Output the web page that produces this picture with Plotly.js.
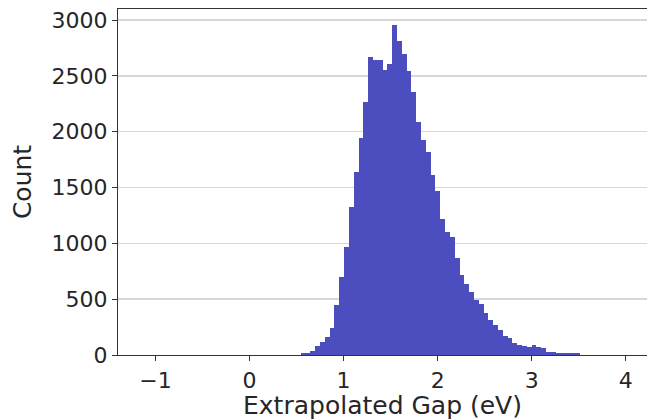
<!DOCTYPE html>
<html>
<head>
<meta charset="utf-8">
<script src="https://cdn.plot.ly/plotly-3.0.1.min.js"></script>
<style>
  html, body { margin: 0; padding: 0; background: #ffffff; }
  #chart { width: 647px; height: 420px; }
</style>
</head>
<body>
<div id="chart"></div>
<script>
// Histogram of extrapolated gap values (eV)
const binStart = -1.143;     // left edge of the first histogram bin (eV)
const binWidth = 0.05114;    // bin width (eV)
const firstBin = 32;         // index of the first bin listed below
const counts = [
  3, 15, 20, 36, 84, 118, 157, 245, 448, 702,
  971, 1324, 1637, 1945, 2262, 2665, 2640, 2642, 2554, 2610,
  2952, 2808, 2700, 2540, 2360, 2091, 1925, 1814, 1610, 1468,
  1216, 1100, 1055, 866, 713, 635, 568, 493, 457, 373,
  317, 269, 227, 172, 154, 112, 86, 84, 75, 90,
  72, 60, 30, 30, 15, 15, 15, 15, 15, 4,
  3
];
const xTickVals = [-1, 0, 1, 2, 3, 4];
const yTickVals = [0, 500, 1000, 1500, 2000, 2500, 3000];
const xLabel = "Extrapolated Gap (eV)";
const yLabel = "Count";

const centers = counts.map((c, i) => binStart + (firstBin + i + 0.5) * binWidth);

const trace = {
  type: "bar",
  x: centers,
  y: counts,
  width: binWidth,
  marker: { color: "rgb(76,78,192)", line: { width: 0 } },
  hoverinfo: "x+y"
};

const tickFont = { family: "DejaVu Sans, sans-serif", size: 22, color: "#262626" };
const titleFont = { family: "DejaVu Sans, sans-serif", size: 25, color: "#262626" };

const layout = {
  width: 647,
  height: 420,
  margin: { l: 118, r: 0, t: 9, b: 65 },
  paper_bgcolor: "#ffffff",
  plot_bgcolor: "#ffffff",
  showlegend: false,
  bargap: 0,
  font: tickFont,
  xaxis: {
    range: [-1.399, 4.226],
    tickvals: xTickVals,
    ticks: "outside",
    ticklen: 5,
    tickwidth: 1,
    tickcolor: "#333333",
    showline: true,
    linecolor: "#333333",
    linewidth: 1.2,
    mirror: true,
    showgrid: false,
    zeroline: false,
    tickfont: tickFont,
    title: { text: xLabel, font: titleFont, standoff: 5 }
  },
  yaxis: {
    range: [0, 3099],
    tickvals: yTickVals,
    ticks: "outside",
    ticklen: 5,
    tickwidth: 1,
    tickcolor: "#333333",
    showline: true,
    linecolor: "#333333",
    linewidth: 1.2,
    mirror: false,
    showgrid: true,
    gridcolor: "#d6d6d6",
    gridwidth: 1.5,
    zeroline: false,
    tickfont: tickFont,
    title: { text: yLabel, font: titleFont, standoff: 12 }
  }
};

Plotly.newPlot("chart", [trace], layout, { displayModeBar: false, staticPlot: true });
</script>
</body>
</html>
